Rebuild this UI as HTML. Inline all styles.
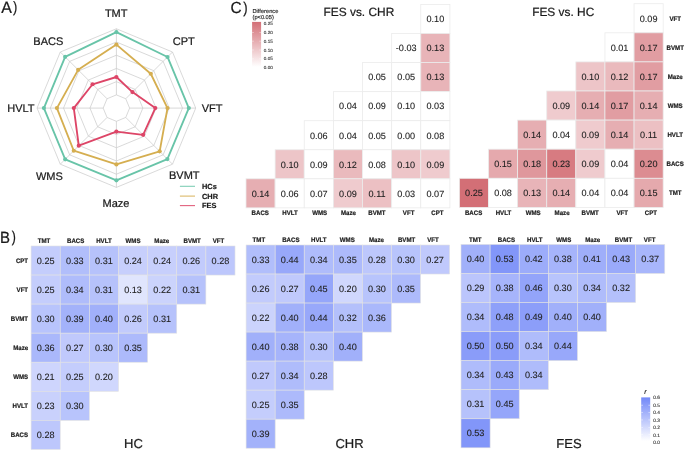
<!DOCTYPE html>
<html><head><meta charset="utf-8"><style>
html,body{margin:0;padding:0;background:#fff;}
body{width:685px;height:451px;overflow:hidden;}
svg{display:block;font-family:"Liberation Sans", sans-serif;will-change:transform;text-rendering:geometricPrecision;}
</style></head><body>
<svg width="685" height="451" viewBox="0 0 685 451">
<rect width="685" height="451" fill="#ffffff"/>
<polygon points="116.40,94.88 125.75,98.75 129.62,108.10 125.75,117.45 116.40,121.32 107.05,117.45 103.18,108.10 107.05,98.75" fill="none" stroke="#c8c8c8" stroke-width="0.7"/>
<polygon points="116.40,81.66 135.10,89.40 142.84,108.10 135.10,126.80 116.40,134.54 97.70,126.80 89.96,108.10 97.70,89.40" fill="none" stroke="#c8c8c8" stroke-width="0.7"/>
<polygon points="116.40,68.44 144.44,80.06 156.06,108.10 144.44,136.14 116.40,147.76 88.36,136.14 76.74,108.10 88.36,80.06" fill="none" stroke="#c8c8c8" stroke-width="0.7"/>
<polygon points="116.40,55.22 153.79,70.71 169.28,108.10 153.79,145.49 116.40,160.98 79.01,145.49 63.52,108.10 79.01,70.71" fill="none" stroke="#c8c8c8" stroke-width="0.7"/>
<polygon points="116.40,42.00 163.14,61.36 182.50,108.10 163.14,154.84 116.40,174.20 69.66,154.84 50.30,108.10 69.66,61.36" fill="none" stroke="#c8c8c8" stroke-width="0.7"/>
<polygon points="116.40,28.78 172.49,52.01 195.72,108.10 172.49,164.19 116.40,187.42 60.31,164.19 37.08,108.10 60.31,52.01" fill="none" stroke="#c8c8c8" stroke-width="0.7"/>
<line x1="116.40" y1="94.88" x2="116.40" y2="28.78" stroke="#c8c8c8" stroke-width="0.7"/>
<line x1="125.75" y1="98.75" x2="172.49" y2="52.01" stroke="#c8c8c8" stroke-width="0.7"/>
<line x1="129.62" y1="108.10" x2="195.72" y2="108.10" stroke="#c8c8c8" stroke-width="0.7"/>
<line x1="125.75" y1="117.45" x2="172.49" y2="164.19" stroke="#c8c8c8" stroke-width="0.7"/>
<line x1="116.40" y1="121.32" x2="116.40" y2="187.42" stroke="#c8c8c8" stroke-width="0.7"/>
<line x1="107.05" y1="117.45" x2="60.31" y2="164.19" stroke="#c8c8c8" stroke-width="0.7"/>
<line x1="103.18" y1="108.10" x2="37.08" y2="108.10" stroke="#c8c8c8" stroke-width="0.7"/>
<line x1="107.05" y1="98.75" x2="60.31" y2="52.01" stroke="#c8c8c8" stroke-width="0.7"/>
<polygon points="116.40,32.10 167.52,56.98 188.80,108.10 167.38,159.08 116.40,180.30 65.21,159.29 43.90,108.10 65.13,56.83" fill="none" stroke="#68c4a8" stroke-width="1.85" stroke-linejoin="round"/>
<circle cx="116.40" cy="32.10" r="2.1" fill="#68c4a8"/>
<circle cx="167.52" cy="56.98" r="2.1" fill="#68c4a8"/>
<circle cx="188.80" cy="108.10" r="2.1" fill="#68c4a8"/>
<circle cx="167.38" cy="159.08" r="2.1" fill="#68c4a8"/>
<circle cx="116.40" cy="180.30" r="2.1" fill="#68c4a8"/>
<circle cx="65.21" cy="159.29" r="2.1" fill="#68c4a8"/>
<circle cx="43.90" cy="108.10" r="2.1" fill="#68c4a8"/>
<circle cx="65.13" cy="56.83" r="2.1" fill="#68c4a8"/>
<polygon points="116.40,44.60 150.77,73.73 167.50,108.10 159.67,151.37 116.40,164.40 73.76,150.74 56.90,108.10 78.15,69.85" fill="none" stroke="#d5ae50" stroke-width="1.85" stroke-linejoin="round"/>
<circle cx="116.40" cy="44.60" r="2.1" fill="#d5ae50"/>
<circle cx="150.77" cy="73.73" r="2.1" fill="#d5ae50"/>
<circle cx="167.50" cy="108.10" r="2.1" fill="#d5ae50"/>
<circle cx="159.67" cy="151.37" r="2.1" fill="#d5ae50"/>
<circle cx="116.40" cy="164.40" r="2.1" fill="#d5ae50"/>
<circle cx="73.76" cy="150.74" r="2.1" fill="#d5ae50"/>
<circle cx="56.90" cy="108.10" r="2.1" fill="#d5ae50"/>
<circle cx="78.15" cy="69.85" r="2.1" fill="#d5ae50"/>
<polygon points="116.40,77.00 132.45,92.05 155.30,108.10 143.13,134.83 116.40,131.60 78.78,145.72 73.80,108.10 92.57,84.27" fill="none" stroke="#dd4567" stroke-width="1.85" stroke-linejoin="round"/>
<circle cx="116.40" cy="77.00" r="2.1" fill="#dd4567"/>
<circle cx="132.45" cy="92.05" r="2.1" fill="#dd4567"/>
<circle cx="155.30" cy="108.10" r="2.1" fill="#dd4567"/>
<circle cx="143.13" cy="134.83" r="2.1" fill="#dd4567"/>
<circle cx="116.40" cy="131.60" r="2.1" fill="#dd4567"/>
<circle cx="78.78" cy="145.72" r="2.1" fill="#dd4567"/>
<circle cx="73.80" cy="108.10" r="2.1" fill="#dd4567"/>
<circle cx="92.57" cy="84.27" r="2.1" fill="#dd4567"/>
<g fill="#1a1a1a" font-size="11.0">
<text x="116.20" y="16.90" font-size="11.0" text-anchor="middle" font-weight="normal" fill="#1a1a1a" stroke="#1a1a1a" stroke-width="0.22" >TMT</text>
<text x="172.80" y="44.90" font-size="11.0" text-anchor="start" font-weight="normal" fill="#1a1a1a" stroke="#1a1a1a" stroke-width="0.22" >CPT</text>
<text x="201.70" y="111.90" font-size="11.0" text-anchor="start" font-weight="normal" fill="#1a1a1a" stroke="#1a1a1a" stroke-width="0.22" >VFT</text>
<text x="169.00" y="179.40" font-size="11.0" text-anchor="start" font-weight="normal" fill="#1a1a1a" stroke="#1a1a1a" stroke-width="0.22" >BVMT</text>
<text x="116.00" y="206.70" font-size="11.0" text-anchor="middle" font-weight="normal" fill="#1a1a1a" stroke="#1a1a1a" stroke-width="0.22" >Maze</text>
<text x="62.80" y="179.50" font-size="11.0" text-anchor="end" font-weight="normal" fill="#1a1a1a" stroke="#1a1a1a" stroke-width="0.22" >WMS</text>
<text x="34.50" y="111.90" font-size="11.0" text-anchor="end" font-weight="normal" fill="#1a1a1a" stroke="#1a1a1a" stroke-width="0.22" >HVLT</text>
<text x="63.30" y="44.60" font-size="11.0" text-anchor="end" font-weight="normal" fill="#1a1a1a" stroke="#1a1a1a" stroke-width="0.22" >BACS</text>
</g>
<line x1="179.9" y1="186.3" x2="195" y2="186.3" stroke="#68c4a8" stroke-width="1.1" opacity="0.85"/>
<text x="202.00" y="188.90" font-size="7.4" text-anchor="start" font-weight="bold" fill="#1a1a1a" stroke="#1a1a1a" stroke-width="0.20" >HCs</text>
<line x1="179.9" y1="196.1" x2="195" y2="196.1" stroke="#d5ae50" stroke-width="1.1" opacity="0.85"/>
<text x="202.00" y="198.80" font-size="7.4" text-anchor="start" font-weight="bold" fill="#1a1a1a" stroke="#1a1a1a" stroke-width="0.20" >CHR</text>
<line x1="179.9" y1="205.6" x2="195" y2="205.6" stroke="#dd4567" stroke-width="1.1" opacity="0.85"/>
<text x="202.00" y="208.30" font-size="7.4" text-anchor="start" font-weight="bold" fill="#1a1a1a" stroke="#1a1a1a" stroke-width="0.20" >FES</text>
<text transform="translate(1.20,12.60) scale(0.97,1)" font-size="16.4" text-anchor="start" font-weight="normal" fill="#1a1a1a" stroke="#1a1a1a" stroke-width="0.22" >A</text>
<text transform="translate(13.00,12.35) scale(0.85,1)" font-size="15.2" text-anchor="start" font-weight="normal" fill="#1a1a1a" stroke="#1a1a1a" stroke-width="0.22" >)</text>
<text transform="translate(0.00,242.60) scale(0.92,1)" font-size="16.3" text-anchor="start" font-weight="normal" fill="#1a1a1a" stroke="#1a1a1a" stroke-width="0.22" >B</text>
<text transform="translate(11.70,242.40) scale(0.8,1)" font-size="15.4" text-anchor="start" font-weight="normal" fill="#1a1a1a" stroke="#1a1a1a" stroke-width="0.22" >)</text>
<text transform="translate(230.50,12.55) scale(0.96,1)" font-size="16.1" text-anchor="start" font-weight="normal" fill="#1a1a1a" stroke="#1a1a1a" stroke-width="0.22" >C</text>
<text transform="translate(243.20,12.60) scale(0.85,1)" font-size="15.4" text-anchor="start" font-weight="normal" fill="#1a1a1a" stroke="#1a1a1a" stroke-width="0.22" >)</text>
<rect x="31.10" y="246.00" width="29.13" height="29.06" fill="#c4cdfc" stroke="#e2e2e2" stroke-width="0.6"/>
<text x="45.66" y="263.53" font-size="9.1" text-anchor="middle" font-weight="normal" fill="#222222" stroke="#222222" stroke-width="0.10" >0.25</text>
<rect x="60.23" y="246.00" width="29.13" height="29.06" fill="#b1befb" stroke="#e2e2e2" stroke-width="0.6"/>
<text x="74.80" y="263.53" font-size="9.1" text-anchor="middle" font-weight="normal" fill="#222222" stroke="#222222" stroke-width="0.10" >0.33</text>
<rect x="89.36" y="246.00" width="29.13" height="29.06" fill="#b6c2fb" stroke="#e2e2e2" stroke-width="0.6"/>
<text x="103.92" y="263.53" font-size="9.1" text-anchor="middle" font-weight="normal" fill="#222222" stroke="#222222" stroke-width="0.10" >0.31</text>
<rect x="118.49" y="246.00" width="29.13" height="29.06" fill="#c7cffc" stroke="#e2e2e2" stroke-width="0.6"/>
<text x="133.06" y="263.53" font-size="9.1" text-anchor="middle" font-weight="normal" fill="#222222" stroke="#222222" stroke-width="0.10" >0.24</text>
<rect x="147.62" y="246.00" width="29.13" height="29.06" fill="#c7cffc" stroke="#e2e2e2" stroke-width="0.6"/>
<text x="162.19" y="263.53" font-size="9.1" text-anchor="middle" font-weight="normal" fill="#222222" stroke="#222222" stroke-width="0.10" >0.24</text>
<rect x="176.75" y="246.00" width="29.13" height="29.06" fill="#c2cbfc" stroke="#e2e2e2" stroke-width="0.6"/>
<text x="191.31" y="263.53" font-size="9.1" text-anchor="middle" font-weight="normal" fill="#222222" stroke="#222222" stroke-width="0.10" >0.26</text>
<rect x="205.88" y="246.00" width="29.13" height="29.06" fill="#bdc7fc" stroke="#e2e2e2" stroke-width="0.6"/>
<text x="220.44" y="263.53" font-size="9.1" text-anchor="middle" font-weight="normal" fill="#222222" stroke="#222222" stroke-width="0.10" >0.28</text>
<rect x="31.10" y="275.06" width="29.13" height="29.06" fill="#c4cdfc" stroke="#e2e2e2" stroke-width="0.6"/>
<text x="45.66" y="292.59" font-size="9.1" text-anchor="middle" font-weight="normal" fill="#222222" stroke="#222222" stroke-width="0.10" >0.25</text>
<rect x="60.23" y="275.06" width="29.13" height="29.06" fill="#afbcfb" stroke="#e2e2e2" stroke-width="0.6"/>
<text x="74.80" y="292.59" font-size="9.1" text-anchor="middle" font-weight="normal" fill="#222222" stroke="#222222" stroke-width="0.10" >0.34</text>
<rect x="89.36" y="275.06" width="29.13" height="29.06" fill="#b6c2fb" stroke="#e2e2e2" stroke-width="0.6"/>
<text x="103.92" y="292.59" font-size="9.1" text-anchor="middle" font-weight="normal" fill="#222222" stroke="#222222" stroke-width="0.10" >0.31</text>
<rect x="118.49" y="275.06" width="29.13" height="29.06" fill="#e0e5fd" stroke="#e2e2e2" stroke-width="0.6"/>
<text x="133.06" y="292.59" font-size="9.1" text-anchor="middle" font-weight="normal" fill="#222222" stroke="#222222" stroke-width="0.10" >0.13</text>
<rect x="147.62" y="275.06" width="29.13" height="29.06" fill="#cbd3fc" stroke="#e2e2e2" stroke-width="0.6"/>
<text x="162.19" y="292.59" font-size="9.1" text-anchor="middle" font-weight="normal" fill="#222222" stroke="#222222" stroke-width="0.10" >0.22</text>
<rect x="176.75" y="275.06" width="29.13" height="29.06" fill="#b6c2fb" stroke="#e2e2e2" stroke-width="0.6"/>
<text x="191.31" y="292.59" font-size="9.1" text-anchor="middle" font-weight="normal" fill="#222222" stroke="#222222" stroke-width="0.10" >0.31</text>
<rect x="31.10" y="304.12" width="29.13" height="29.06" fill="#b8c4fc" stroke="#e2e2e2" stroke-width="0.6"/>
<text x="45.66" y="321.65" font-size="9.1" text-anchor="middle" font-weight="normal" fill="#222222" stroke="#222222" stroke-width="0.10" >0.30</text>
<rect x="60.23" y="304.12" width="29.13" height="29.06" fill="#a3b2fa" stroke="#e2e2e2" stroke-width="0.6"/>
<text x="74.80" y="321.65" font-size="9.1" text-anchor="middle" font-weight="normal" fill="#222222" stroke="#222222" stroke-width="0.10" >0.39</text>
<rect x="89.36" y="304.12" width="29.13" height="29.06" fill="#a1b0fa" stroke="#e2e2e2" stroke-width="0.6"/>
<text x="103.92" y="321.65" font-size="9.1" text-anchor="middle" font-weight="normal" fill="#222222" stroke="#222222" stroke-width="0.10" >0.40</text>
<rect x="118.49" y="304.12" width="29.13" height="29.06" fill="#c2cbfc" stroke="#e2e2e2" stroke-width="0.6"/>
<text x="133.06" y="321.65" font-size="9.1" text-anchor="middle" font-weight="normal" fill="#222222" stroke="#222222" stroke-width="0.10" >0.26</text>
<rect x="147.62" y="304.12" width="29.13" height="29.06" fill="#b6c2fb" stroke="#e2e2e2" stroke-width="0.6"/>
<text x="162.19" y="321.65" font-size="9.1" text-anchor="middle" font-weight="normal" fill="#222222" stroke="#222222" stroke-width="0.10" >0.31</text>
<rect x="31.10" y="333.18" width="29.13" height="29.06" fill="#aab8fb" stroke="#e2e2e2" stroke-width="0.6"/>
<text x="45.66" y="350.71" font-size="9.1" text-anchor="middle" font-weight="normal" fill="#222222" stroke="#222222" stroke-width="0.10" >0.36</text>
<rect x="60.23" y="333.18" width="29.13" height="29.06" fill="#c0c9fc" stroke="#e2e2e2" stroke-width="0.6"/>
<text x="74.80" y="350.71" font-size="9.1" text-anchor="middle" font-weight="normal" fill="#222222" stroke="#222222" stroke-width="0.10" >0.27</text>
<rect x="89.36" y="333.18" width="29.13" height="29.06" fill="#b8c4fc" stroke="#e2e2e2" stroke-width="0.6"/>
<text x="103.92" y="350.71" font-size="9.1" text-anchor="middle" font-weight="normal" fill="#222222" stroke="#222222" stroke-width="0.10" >0.30</text>
<rect x="118.49" y="333.18" width="29.13" height="29.06" fill="#adbafb" stroke="#e2e2e2" stroke-width="0.6"/>
<text x="133.06" y="350.71" font-size="9.1" text-anchor="middle" font-weight="normal" fill="#222222" stroke="#222222" stroke-width="0.10" >0.35</text>
<rect x="31.10" y="362.24" width="29.13" height="29.06" fill="#ced5fd" stroke="#e2e2e2" stroke-width="0.6"/>
<text x="45.66" y="379.77" font-size="9.1" text-anchor="middle" font-weight="normal" fill="#222222" stroke="#222222" stroke-width="0.10" >0.21</text>
<rect x="60.23" y="362.24" width="29.13" height="29.06" fill="#c4cdfc" stroke="#e2e2e2" stroke-width="0.6"/>
<text x="74.80" y="379.77" font-size="9.1" text-anchor="middle" font-weight="normal" fill="#222222" stroke="#222222" stroke-width="0.10" >0.25</text>
<rect x="89.36" y="362.24" width="29.13" height="29.06" fill="#d0d7fd" stroke="#e2e2e2" stroke-width="0.6"/>
<text x="103.92" y="379.77" font-size="9.1" text-anchor="middle" font-weight="normal" fill="#222222" stroke="#222222" stroke-width="0.10" >0.20</text>
<rect x="31.10" y="391.30" width="29.13" height="29.06" fill="#c9d1fc" stroke="#e2e2e2" stroke-width="0.6"/>
<text x="45.66" y="408.83" font-size="9.1" text-anchor="middle" font-weight="normal" fill="#222222" stroke="#222222" stroke-width="0.10" >0.23</text>
<rect x="60.23" y="391.30" width="29.13" height="29.06" fill="#b8c4fc" stroke="#e2e2e2" stroke-width="0.6"/>
<text x="74.80" y="408.83" font-size="9.1" text-anchor="middle" font-weight="normal" fill="#222222" stroke="#222222" stroke-width="0.10" >0.30</text>
<rect x="31.10" y="420.36" width="29.13" height="29.06" fill="#bdc7fc" stroke="#e2e2e2" stroke-width="0.6"/>
<text x="45.66" y="437.89" font-size="9.1" text-anchor="middle" font-weight="normal" fill="#222222" stroke="#222222" stroke-width="0.10" >0.28</text>
<text transform="translate(43.96,242.60) scale(0.94,1)" font-size="6.5" text-anchor="middle" font-weight="bold" fill="#1a1a1a" stroke="#1a1a1a" stroke-width="0.20" >TMT</text>
<text transform="translate(75.70,242.60) scale(0.94,1)" font-size="6.5" text-anchor="middle" font-weight="bold" fill="#1a1a1a" stroke="#1a1a1a" stroke-width="0.20" >BACS</text>
<text transform="translate(103.92,242.60) scale(0.94,1)" font-size="6.5" text-anchor="middle" font-weight="bold" fill="#1a1a1a" stroke="#1a1a1a" stroke-width="0.20" >HVLT</text>
<text transform="translate(133.06,242.60) scale(0.94,1)" font-size="6.5" text-anchor="middle" font-weight="bold" fill="#1a1a1a" stroke="#1a1a1a" stroke-width="0.20" >WMS</text>
<text transform="translate(161.78,242.60) scale(0.94,1)" font-size="6.5" text-anchor="middle" font-weight="bold" fill="#1a1a1a" stroke="#1a1a1a" stroke-width="0.20" >Maze</text>
<text transform="translate(192.12,242.60) scale(0.94,1)" font-size="6.5" text-anchor="middle" font-weight="bold" fill="#1a1a1a" stroke="#1a1a1a" stroke-width="0.20" >BVMT</text>
<text transform="translate(218.54,242.60) scale(0.94,1)" font-size="6.5" text-anchor="middle" font-weight="bold" fill="#1a1a1a" stroke="#1a1a1a" stroke-width="0.20" >VFT</text>
<text transform="translate(28.10,263.13) scale(0.94,1)" font-size="6.5" text-anchor="end" font-weight="bold" fill="#1a1a1a" stroke="#1a1a1a" stroke-width="0.20" >CPT</text>
<text transform="translate(28.10,292.19) scale(0.94,1)" font-size="6.5" text-anchor="end" font-weight="bold" fill="#1a1a1a" stroke="#1a1a1a" stroke-width="0.20" >VFT</text>
<text transform="translate(28.10,321.25) scale(0.94,1)" font-size="6.5" text-anchor="end" font-weight="bold" fill="#1a1a1a" stroke="#1a1a1a" stroke-width="0.20" >BVMT</text>
<text transform="translate(28.10,350.31) scale(0.94,1)" font-size="6.5" text-anchor="end" font-weight="bold" fill="#1a1a1a" stroke="#1a1a1a" stroke-width="0.20" >Maze</text>
<text transform="translate(28.10,379.37) scale(0.94,1)" font-size="6.5" text-anchor="end" font-weight="bold" fill="#1a1a1a" stroke="#1a1a1a" stroke-width="0.20" >WMS</text>
<text transform="translate(28.10,408.43) scale(0.94,1)" font-size="6.5" text-anchor="end" font-weight="bold" fill="#1a1a1a" stroke="#1a1a1a" stroke-width="0.20" >HVLT</text>
<text transform="translate(28.10,437.49) scale(0.94,1)" font-size="6.5" text-anchor="end" font-weight="bold" fill="#1a1a1a" stroke="#1a1a1a" stroke-width="0.20" >BACS</text>
<text x="133.40" y="447.80" font-size="13" text-anchor="middle" font-weight="normal" fill="#1a1a1a" stroke="#1a1a1a" stroke-width="0.22" >HC</text>
<rect x="246.10" y="245.00" width="29.07" height="29.03" fill="#b1befb" stroke="#e2e2e2" stroke-width="0.6"/>
<text x="260.63" y="262.51" font-size="9.1" text-anchor="middle" font-weight="normal" fill="#222222" stroke="#222222" stroke-width="0.10" >0.33</text>
<rect x="275.17" y="245.00" width="29.07" height="29.03" fill="#98a8fa" stroke="#e2e2e2" stroke-width="0.6"/>
<text x="289.71" y="262.51" font-size="9.1" text-anchor="middle" font-weight="normal" fill="#222222" stroke="#222222" stroke-width="0.10" >0.44</text>
<rect x="304.24" y="245.00" width="29.07" height="29.03" fill="#afbcfb" stroke="#e2e2e2" stroke-width="0.6"/>
<text x="318.78" y="262.51" font-size="9.1" text-anchor="middle" font-weight="normal" fill="#222222" stroke="#222222" stroke-width="0.10" >0.34</text>
<rect x="333.31" y="245.00" width="29.07" height="29.03" fill="#adbafb" stroke="#e2e2e2" stroke-width="0.6"/>
<text x="347.85" y="262.51" font-size="9.1" text-anchor="middle" font-weight="normal" fill="#222222" stroke="#222222" stroke-width="0.10" >0.35</text>
<rect x="362.38" y="245.00" width="29.07" height="29.03" fill="#bdc7fc" stroke="#e2e2e2" stroke-width="0.6"/>
<text x="376.92" y="262.51" font-size="9.1" text-anchor="middle" font-weight="normal" fill="#222222" stroke="#222222" stroke-width="0.10" >0.28</text>
<rect x="391.45" y="245.00" width="29.07" height="29.03" fill="#b8c4fc" stroke="#e2e2e2" stroke-width="0.6"/>
<text x="405.99" y="262.51" font-size="9.1" text-anchor="middle" font-weight="normal" fill="#222222" stroke="#222222" stroke-width="0.10" >0.30</text>
<rect x="420.52" y="245.00" width="29.07" height="29.03" fill="#c0c9fc" stroke="#e2e2e2" stroke-width="0.6"/>
<text x="435.06" y="262.51" font-size="9.1" text-anchor="middle" font-weight="normal" fill="#222222" stroke="#222222" stroke-width="0.10" >0.27</text>
<rect x="246.10" y="274.03" width="29.07" height="29.03" fill="#c2cbfc" stroke="#e2e2e2" stroke-width="0.6"/>
<text x="260.63" y="291.54" font-size="9.1" text-anchor="middle" font-weight="normal" fill="#222222" stroke="#222222" stroke-width="0.10" >0.26</text>
<rect x="275.17" y="274.03" width="29.07" height="29.03" fill="#c0c9fc" stroke="#e2e2e2" stroke-width="0.6"/>
<text x="289.71" y="291.54" font-size="9.1" text-anchor="middle" font-weight="normal" fill="#222222" stroke="#222222" stroke-width="0.10" >0.27</text>
<rect x="304.24" y="274.03" width="29.07" height="29.03" fill="#95a6fa" stroke="#e2e2e2" stroke-width="0.6"/>
<text x="318.78" y="291.54" font-size="9.1" text-anchor="middle" font-weight="normal" fill="#222222" stroke="#222222" stroke-width="0.10" >0.45</text>
<rect x="333.31" y="274.03" width="29.07" height="29.03" fill="#d0d7fd" stroke="#e2e2e2" stroke-width="0.6"/>
<text x="347.85" y="291.54" font-size="9.1" text-anchor="middle" font-weight="normal" fill="#222222" stroke="#222222" stroke-width="0.10" >0.20</text>
<rect x="362.38" y="274.03" width="29.07" height="29.03" fill="#b8c4fc" stroke="#e2e2e2" stroke-width="0.6"/>
<text x="376.92" y="291.54" font-size="9.1" text-anchor="middle" font-weight="normal" fill="#222222" stroke="#222222" stroke-width="0.10" >0.30</text>
<rect x="391.45" y="274.03" width="29.07" height="29.03" fill="#adbafb" stroke="#e2e2e2" stroke-width="0.6"/>
<text x="405.99" y="291.54" font-size="9.1" text-anchor="middle" font-weight="normal" fill="#222222" stroke="#222222" stroke-width="0.10" >0.35</text>
<rect x="246.10" y="303.06" width="29.07" height="29.03" fill="#cbd3fc" stroke="#e2e2e2" stroke-width="0.6"/>
<text x="260.63" y="320.57" font-size="9.1" text-anchor="middle" font-weight="normal" fill="#222222" stroke="#222222" stroke-width="0.10" >0.22</text>
<rect x="275.17" y="303.06" width="29.07" height="29.03" fill="#a1b0fa" stroke="#e2e2e2" stroke-width="0.6"/>
<text x="289.71" y="320.57" font-size="9.1" text-anchor="middle" font-weight="normal" fill="#222222" stroke="#222222" stroke-width="0.10" >0.40</text>
<rect x="304.24" y="303.06" width="29.07" height="29.03" fill="#98a8fa" stroke="#e2e2e2" stroke-width="0.6"/>
<text x="318.78" y="320.57" font-size="9.1" text-anchor="middle" font-weight="normal" fill="#222222" stroke="#222222" stroke-width="0.10" >0.44</text>
<rect x="333.31" y="303.06" width="29.07" height="29.03" fill="#b4c0fb" stroke="#e2e2e2" stroke-width="0.6"/>
<text x="347.85" y="320.57" font-size="9.1" text-anchor="middle" font-weight="normal" fill="#222222" stroke="#222222" stroke-width="0.10" >0.32</text>
<rect x="362.38" y="303.06" width="29.07" height="29.03" fill="#aab8fb" stroke="#e2e2e2" stroke-width="0.6"/>
<text x="376.92" y="320.57" font-size="9.1" text-anchor="middle" font-weight="normal" fill="#222222" stroke="#222222" stroke-width="0.10" >0.36</text>
<rect x="246.10" y="332.09" width="29.07" height="29.03" fill="#a1b0fa" stroke="#e2e2e2" stroke-width="0.6"/>
<text x="260.63" y="349.61" font-size="9.1" text-anchor="middle" font-weight="normal" fill="#222222" stroke="#222222" stroke-width="0.10" >0.40</text>
<rect x="275.17" y="332.09" width="29.07" height="29.03" fill="#a6b4fb" stroke="#e2e2e2" stroke-width="0.6"/>
<text x="289.71" y="349.61" font-size="9.1" text-anchor="middle" font-weight="normal" fill="#222222" stroke="#222222" stroke-width="0.10" >0.38</text>
<rect x="304.24" y="332.09" width="29.07" height="29.03" fill="#b8c4fc" stroke="#e2e2e2" stroke-width="0.6"/>
<text x="318.78" y="349.61" font-size="9.1" text-anchor="middle" font-weight="normal" fill="#222222" stroke="#222222" stroke-width="0.10" >0.30</text>
<rect x="333.31" y="332.09" width="29.07" height="29.03" fill="#a1b0fa" stroke="#e2e2e2" stroke-width="0.6"/>
<text x="347.85" y="349.61" font-size="9.1" text-anchor="middle" font-weight="normal" fill="#222222" stroke="#222222" stroke-width="0.10" >0.40</text>
<rect x="246.10" y="361.12" width="29.07" height="29.03" fill="#c0c9fc" stroke="#e2e2e2" stroke-width="0.6"/>
<text x="260.63" y="378.63" font-size="9.1" text-anchor="middle" font-weight="normal" fill="#222222" stroke="#222222" stroke-width="0.10" >0.27</text>
<rect x="275.17" y="361.12" width="29.07" height="29.03" fill="#afbcfb" stroke="#e2e2e2" stroke-width="0.6"/>
<text x="289.71" y="378.63" font-size="9.1" text-anchor="middle" font-weight="normal" fill="#222222" stroke="#222222" stroke-width="0.10" >0.34</text>
<rect x="304.24" y="361.12" width="29.07" height="29.03" fill="#bdc7fc" stroke="#e2e2e2" stroke-width="0.6"/>
<text x="318.78" y="378.63" font-size="9.1" text-anchor="middle" font-weight="normal" fill="#222222" stroke="#222222" stroke-width="0.10" >0.28</text>
<rect x="246.10" y="390.15" width="29.07" height="29.03" fill="#c4cdfc" stroke="#e2e2e2" stroke-width="0.6"/>
<text x="260.63" y="407.66" font-size="9.1" text-anchor="middle" font-weight="normal" fill="#222222" stroke="#222222" stroke-width="0.10" >0.25</text>
<rect x="275.17" y="390.15" width="29.07" height="29.03" fill="#adbafb" stroke="#e2e2e2" stroke-width="0.6"/>
<text x="289.71" y="407.66" font-size="9.1" text-anchor="middle" font-weight="normal" fill="#222222" stroke="#222222" stroke-width="0.10" >0.35</text>
<rect x="246.10" y="419.18" width="29.07" height="29.03" fill="#a3b2fa" stroke="#e2e2e2" stroke-width="0.6"/>
<text x="260.63" y="436.69" font-size="9.1" text-anchor="middle" font-weight="normal" fill="#222222" stroke="#222222" stroke-width="0.10" >0.39</text>
<text transform="translate(258.83,241.60) scale(0.94,1)" font-size="6.5" text-anchor="middle" font-weight="bold" fill="#1a1a1a" stroke="#1a1a1a" stroke-width="0.20" >TMT</text>
<text transform="translate(290.81,241.60) scale(0.94,1)" font-size="6.5" text-anchor="middle" font-weight="bold" fill="#1a1a1a" stroke="#1a1a1a" stroke-width="0.20" >BACS</text>
<text transform="translate(318.78,241.60) scale(0.94,1)" font-size="6.5" text-anchor="middle" font-weight="bold" fill="#1a1a1a" stroke="#1a1a1a" stroke-width="0.20" >HVLT</text>
<text transform="translate(347.25,241.60) scale(0.94,1)" font-size="6.5" text-anchor="middle" font-weight="bold" fill="#1a1a1a" stroke="#1a1a1a" stroke-width="0.20" >WMS</text>
<text transform="translate(376.42,241.60) scale(0.94,1)" font-size="6.5" text-anchor="middle" font-weight="bold" fill="#1a1a1a" stroke="#1a1a1a" stroke-width="0.20" >Maze</text>
<text transform="translate(406.59,241.60) scale(0.94,1)" font-size="6.5" text-anchor="middle" font-weight="bold" fill="#1a1a1a" stroke="#1a1a1a" stroke-width="0.20" >BVMT</text>
<text transform="translate(433.06,241.60) scale(0.94,1)" font-size="6.5" text-anchor="middle" font-weight="bold" fill="#1a1a1a" stroke="#1a1a1a" stroke-width="0.20" >VFT</text>
<text x="349.50" y="447.80" font-size="13" text-anchor="middle" font-weight="normal" fill="#1a1a1a" stroke="#1a1a1a" stroke-width="0.22" >CHR</text>
<rect x="461.00" y="244.40" width="29.11" height="29.06" fill="#a1b0fa" stroke="#e2e2e2" stroke-width="0.6"/>
<text x="475.56" y="261.93" font-size="9.1" text-anchor="middle" font-weight="normal" fill="#222222" stroke="#222222" stroke-width="0.10" >0.40</text>
<rect x="490.11" y="244.40" width="29.11" height="29.06" fill="#8296f9" stroke="#e2e2e2" stroke-width="0.6"/>
<text x="504.67" y="261.93" font-size="9.1" text-anchor="middle" font-weight="normal" fill="#222222" stroke="#222222" stroke-width="0.10" >0.53</text>
<rect x="519.22" y="244.40" width="29.11" height="29.06" fill="#9cacfa" stroke="#e2e2e2" stroke-width="0.6"/>
<text x="533.77" y="261.93" font-size="9.1" text-anchor="middle" font-weight="normal" fill="#222222" stroke="#222222" stroke-width="0.10" >0.42</text>
<rect x="548.33" y="244.40" width="29.11" height="29.06" fill="#a6b4fb" stroke="#e2e2e2" stroke-width="0.6"/>
<text x="562.88" y="261.93" font-size="9.1" text-anchor="middle" font-weight="normal" fill="#222222" stroke="#222222" stroke-width="0.10" >0.38</text>
<rect x="577.44" y="244.40" width="29.11" height="29.06" fill="#9faefa" stroke="#e2e2e2" stroke-width="0.6"/>
<text x="592.00" y="261.93" font-size="9.1" text-anchor="middle" font-weight="normal" fill="#222222" stroke="#222222" stroke-width="0.10" >0.41</text>
<rect x="606.55" y="244.40" width="29.11" height="29.06" fill="#9aaafa" stroke="#e2e2e2" stroke-width="0.6"/>
<text x="621.10" y="261.93" font-size="9.1" text-anchor="middle" font-weight="normal" fill="#222222" stroke="#222222" stroke-width="0.10" >0.43</text>
<rect x="635.66" y="244.40" width="29.11" height="29.06" fill="#a8b6fb" stroke="#e2e2e2" stroke-width="0.6"/>
<text x="650.21" y="261.93" font-size="9.1" text-anchor="middle" font-weight="normal" fill="#222222" stroke="#222222" stroke-width="0.10" >0.37</text>
<rect x="461.00" y="273.46" width="29.11" height="29.06" fill="#bbc5fc" stroke="#e2e2e2" stroke-width="0.6"/>
<text x="475.56" y="290.99" font-size="9.1" text-anchor="middle" font-weight="normal" fill="#222222" stroke="#222222" stroke-width="0.10" >0.29</text>
<rect x="490.11" y="273.46" width="29.11" height="29.06" fill="#a6b4fb" stroke="#e2e2e2" stroke-width="0.6"/>
<text x="504.67" y="290.99" font-size="9.1" text-anchor="middle" font-weight="normal" fill="#222222" stroke="#222222" stroke-width="0.10" >0.38</text>
<rect x="519.22" y="273.46" width="29.11" height="29.06" fill="#93a4fa" stroke="#e2e2e2" stroke-width="0.6"/>
<text x="533.77" y="290.99" font-size="9.1" text-anchor="middle" font-weight="normal" fill="#222222" stroke="#222222" stroke-width="0.10" >0.46</text>
<rect x="548.33" y="273.46" width="29.11" height="29.06" fill="#b8c4fc" stroke="#e2e2e2" stroke-width="0.6"/>
<text x="562.88" y="290.99" font-size="9.1" text-anchor="middle" font-weight="normal" fill="#222222" stroke="#222222" stroke-width="0.10" >0.30</text>
<rect x="577.44" y="273.46" width="29.11" height="29.06" fill="#afbcfb" stroke="#e2e2e2" stroke-width="0.6"/>
<text x="592.00" y="290.99" font-size="9.1" text-anchor="middle" font-weight="normal" fill="#222222" stroke="#222222" stroke-width="0.10" >0.34</text>
<rect x="606.55" y="273.46" width="29.11" height="29.06" fill="#b4c0fb" stroke="#e2e2e2" stroke-width="0.6"/>
<text x="621.10" y="290.99" font-size="9.1" text-anchor="middle" font-weight="normal" fill="#222222" stroke="#222222" stroke-width="0.10" >0.32</text>
<rect x="461.00" y="302.52" width="29.11" height="29.06" fill="#afbcfb" stroke="#e2e2e2" stroke-width="0.6"/>
<text x="475.56" y="320.05" font-size="9.1" text-anchor="middle" font-weight="normal" fill="#222222" stroke="#222222" stroke-width="0.10" >0.34</text>
<rect x="490.11" y="302.52" width="29.11" height="29.06" fill="#8ea0f9" stroke="#e2e2e2" stroke-width="0.6"/>
<text x="504.67" y="320.05" font-size="9.1" text-anchor="middle" font-weight="normal" fill="#222222" stroke="#222222" stroke-width="0.10" >0.48</text>
<rect x="519.22" y="302.52" width="29.11" height="29.06" fill="#8c9ef9" stroke="#e2e2e2" stroke-width="0.6"/>
<text x="533.77" y="320.05" font-size="9.1" text-anchor="middle" font-weight="normal" fill="#222222" stroke="#222222" stroke-width="0.10" >0.49</text>
<rect x="548.33" y="302.52" width="29.11" height="29.06" fill="#a1b0fa" stroke="#e2e2e2" stroke-width="0.6"/>
<text x="562.88" y="320.05" font-size="9.1" text-anchor="middle" font-weight="normal" fill="#222222" stroke="#222222" stroke-width="0.10" >0.40</text>
<rect x="577.44" y="302.52" width="29.11" height="29.06" fill="#a1b0fa" stroke="#e2e2e2" stroke-width="0.6"/>
<text x="592.00" y="320.05" font-size="9.1" text-anchor="middle" font-weight="normal" fill="#222222" stroke="#222222" stroke-width="0.10" >0.40</text>
<rect x="461.00" y="331.58" width="29.11" height="29.06" fill="#8a9cf9" stroke="#e2e2e2" stroke-width="0.6"/>
<text x="475.56" y="349.11" font-size="9.1" text-anchor="middle" font-weight="normal" fill="#222222" stroke="#222222" stroke-width="0.10" >0.50</text>
<rect x="490.11" y="331.58" width="29.11" height="29.06" fill="#8a9cf9" stroke="#e2e2e2" stroke-width="0.6"/>
<text x="504.67" y="349.11" font-size="9.1" text-anchor="middle" font-weight="normal" fill="#222222" stroke="#222222" stroke-width="0.10" >0.50</text>
<rect x="519.22" y="331.58" width="29.11" height="29.06" fill="#afbcfb" stroke="#e2e2e2" stroke-width="0.6"/>
<text x="533.77" y="349.11" font-size="9.1" text-anchor="middle" font-weight="normal" fill="#222222" stroke="#222222" stroke-width="0.10" >0.34</text>
<rect x="548.33" y="331.58" width="29.11" height="29.06" fill="#98a8fa" stroke="#e2e2e2" stroke-width="0.6"/>
<text x="562.88" y="349.11" font-size="9.1" text-anchor="middle" font-weight="normal" fill="#222222" stroke="#222222" stroke-width="0.10" >0.44</text>
<rect x="461.00" y="360.64" width="29.11" height="29.06" fill="#afbcfb" stroke="#e2e2e2" stroke-width="0.6"/>
<text x="475.56" y="378.17" font-size="9.1" text-anchor="middle" font-weight="normal" fill="#222222" stroke="#222222" stroke-width="0.10" >0.34</text>
<rect x="490.11" y="360.64" width="29.11" height="29.06" fill="#9aaafa" stroke="#e2e2e2" stroke-width="0.6"/>
<text x="504.67" y="378.17" font-size="9.1" text-anchor="middle" font-weight="normal" fill="#222222" stroke="#222222" stroke-width="0.10" >0.43</text>
<rect x="519.22" y="360.64" width="29.11" height="29.06" fill="#afbcfb" stroke="#e2e2e2" stroke-width="0.6"/>
<text x="533.77" y="378.17" font-size="9.1" text-anchor="middle" font-weight="normal" fill="#222222" stroke="#222222" stroke-width="0.10" >0.34</text>
<rect x="461.00" y="389.70" width="29.11" height="29.06" fill="#b6c2fb" stroke="#e2e2e2" stroke-width="0.6"/>
<text x="475.56" y="407.23" font-size="9.1" text-anchor="middle" font-weight="normal" fill="#222222" stroke="#222222" stroke-width="0.10" >0.31</text>
<rect x="490.11" y="389.70" width="29.11" height="29.06" fill="#95a6fa" stroke="#e2e2e2" stroke-width="0.6"/>
<text x="504.67" y="407.23" font-size="9.1" text-anchor="middle" font-weight="normal" fill="#222222" stroke="#222222" stroke-width="0.10" >0.45</text>
<rect x="461.00" y="418.76" width="29.11" height="29.06" fill="#8296f9" stroke="#e2e2e2" stroke-width="0.6"/>
<text x="475.56" y="436.29" font-size="9.1" text-anchor="middle" font-weight="normal" fill="#222222" stroke="#222222" stroke-width="0.10" >0.53</text>
<text transform="translate(475.20,241.50) scale(0.94,1)" font-size="6.5" text-anchor="middle" font-weight="bold" fill="#1a1a1a" stroke="#1a1a1a" stroke-width="0.20" >TMT</text>
<text transform="translate(506.37,241.50) scale(0.94,1)" font-size="6.5" text-anchor="middle" font-weight="bold" fill="#1a1a1a" stroke="#1a1a1a" stroke-width="0.20" >BACS</text>
<text transform="translate(534.73,241.50) scale(0.94,1)" font-size="6.5" text-anchor="middle" font-weight="bold" fill="#1a1a1a" stroke="#1a1a1a" stroke-width="0.20" >HVLT</text>
<text transform="translate(563.78,241.50) scale(0.94,1)" font-size="6.5" text-anchor="middle" font-weight="bold" fill="#1a1a1a" stroke="#1a1a1a" stroke-width="0.20" >WMS</text>
<text transform="translate(592.70,241.50) scale(0.94,1)" font-size="6.5" text-anchor="middle" font-weight="bold" fill="#1a1a1a" stroke="#1a1a1a" stroke-width="0.20" >Maze</text>
<text transform="translate(623.45,241.50) scale(0.94,1)" font-size="6.5" text-anchor="middle" font-weight="bold" fill="#1a1a1a" stroke="#1a1a1a" stroke-width="0.20" >BVMT</text>
<text transform="translate(649.61,241.50) scale(0.94,1)" font-size="6.5" text-anchor="middle" font-weight="bold" fill="#1a1a1a" stroke="#1a1a1a" stroke-width="0.20" >VFT</text>
<text x="569.00" y="447.80" font-size="13" text-anchor="middle" font-weight="normal" fill="#1a1a1a" stroke="#1a1a1a" stroke-width="0.22" >FES</text>
<defs><linearGradient id="gb" x1="0" y1="1" x2="0" y2="0"><stop offset="0" stop-color="#ffffff"/><stop offset="1" stop-color="#7288f8"/></linearGradient><linearGradient id="gr" x1="0" y1="1" x2="0" y2="0"><stop offset="0" stop-color="#ffffff"/><stop offset="1" stop-color="#d36f76"/></linearGradient></defs>
<rect x="641.2" y="397.4" width="9" height="43.6" fill="url(#gb)"/>
<line x1="641.2" y1="434.65" x2="643.0" y2="434.65" stroke="#ffffff" stroke-width="0.6" opacity="0.8"/>
<line x1="648.4" y1="434.65" x2="650.2" y2="434.65" stroke="#ffffff" stroke-width="0.6" opacity="0.8"/>
<line x1="641.2" y1="427.30" x2="643.0" y2="427.30" stroke="#ffffff" stroke-width="0.6" opacity="0.8"/>
<line x1="648.4" y1="427.30" x2="650.2" y2="427.30" stroke="#ffffff" stroke-width="0.6" opacity="0.8"/>
<line x1="641.2" y1="419.95" x2="643.0" y2="419.95" stroke="#ffffff" stroke-width="0.6" opacity="0.8"/>
<line x1="648.4" y1="419.95" x2="650.2" y2="419.95" stroke="#ffffff" stroke-width="0.6" opacity="0.8"/>
<line x1="641.2" y1="412.60" x2="643.0" y2="412.60" stroke="#ffffff" stroke-width="0.6" opacity="0.8"/>
<line x1="648.4" y1="412.60" x2="650.2" y2="412.60" stroke="#ffffff" stroke-width="0.6" opacity="0.8"/>
<line x1="641.2" y1="405.25" x2="643.0" y2="405.25" stroke="#ffffff" stroke-width="0.6" opacity="0.8"/>
<line x1="648.4" y1="405.25" x2="650.2" y2="405.25" stroke="#ffffff" stroke-width="0.6" opacity="0.8"/>
<text x="653.20" y="444.00" font-size="4.8" text-anchor="start" font-weight="normal" fill="#333333" stroke="#333333" stroke-width="0.11" >0.0</text>
<text x="653.20" y="436.58" font-size="4.8" text-anchor="start" font-weight="normal" fill="#333333" stroke="#333333" stroke-width="0.11" >0.1</text>
<text x="653.20" y="429.16" font-size="4.8" text-anchor="start" font-weight="normal" fill="#333333" stroke="#333333" stroke-width="0.11" >0.2</text>
<text x="653.20" y="421.74" font-size="4.8" text-anchor="start" font-weight="normal" fill="#333333" stroke="#333333" stroke-width="0.11" >0.3</text>
<text x="653.20" y="414.32" font-size="4.8" text-anchor="start" font-weight="normal" fill="#333333" stroke="#333333" stroke-width="0.11" >0.4</text>
<text x="653.20" y="406.90" font-size="4.8" text-anchor="start" font-weight="normal" fill="#333333" stroke="#333333" stroke-width="0.11" >0.5</text>
<text x="653.20" y="399.48" font-size="4.8" text-anchor="start" font-weight="normal" fill="#333333" stroke="#333333" stroke-width="0.11" >0.6</text>
<text x="644.20" y="394.00" font-size="7" text-anchor="start" font-weight="normal" fill="#222222" stroke="#222222" stroke-width="0.15" font-style="italic">r</text>
<rect x="420.78" y="4.50" width="29.13" height="29.05" fill="#ffffff" stroke="#ebebeb" stroke-width="0.8"/>
<text x="435.34" y="22.32" font-size="9.1" text-anchor="middle" font-weight="normal" fill="#222222" stroke="#222222" stroke-width="0.10" >0.10</text>
<rect x="391.65" y="33.55" width="29.13" height="29.05" fill="#ffffff" stroke="#ebebeb" stroke-width="0.8"/>
<text x="406.21" y="51.37" font-size="9.1" text-anchor="middle" font-weight="normal" fill="#222222" stroke="#222222" stroke-width="0.10" >-0.03</text>
<rect x="420.78" y="33.55" width="29.13" height="29.05" fill="#e8b4b8" stroke="#ebebeb" stroke-width="0.8"/>
<text x="435.34" y="51.37" font-size="9.1" text-anchor="middle" font-weight="normal" fill="#222222" stroke="#222222" stroke-width="0.10" >0.13</text>
<rect x="362.52" y="62.60" width="29.13" height="29.05" fill="#ffffff" stroke="#ebebeb" stroke-width="0.8"/>
<text x="377.08" y="80.42" font-size="9.1" text-anchor="middle" font-weight="normal" fill="#222222" stroke="#222222" stroke-width="0.10" >0.05</text>
<rect x="391.65" y="62.60" width="29.13" height="29.05" fill="#ffffff" stroke="#ebebeb" stroke-width="0.8"/>
<text x="406.21" y="80.42" font-size="9.1" text-anchor="middle" font-weight="normal" fill="#222222" stroke="#222222" stroke-width="0.10" >0.05</text>
<rect x="420.78" y="62.60" width="29.13" height="29.05" fill="#e8b4b8" stroke="#ebebeb" stroke-width="0.8"/>
<text x="435.34" y="80.42" font-size="9.1" text-anchor="middle" font-weight="normal" fill="#222222" stroke="#222222" stroke-width="0.10" >0.13</text>
<rect x="333.39" y="91.65" width="29.13" height="29.05" fill="#ffffff" stroke="#ebebeb" stroke-width="0.8"/>
<text x="347.95" y="109.48" font-size="9.1" text-anchor="middle" font-weight="normal" fill="#222222" stroke="#222222" stroke-width="0.10" >0.04</text>
<rect x="362.52" y="91.65" width="29.13" height="29.05" fill="#ffffff" stroke="#ebebeb" stroke-width="0.8"/>
<text x="377.08" y="109.48" font-size="9.1" text-anchor="middle" font-weight="normal" fill="#222222" stroke="#222222" stroke-width="0.10" >0.09</text>
<rect x="391.65" y="91.65" width="29.13" height="29.05" fill="#ffffff" stroke="#ebebeb" stroke-width="0.8"/>
<text x="406.21" y="109.48" font-size="9.1" text-anchor="middle" font-weight="normal" fill="#222222" stroke="#222222" stroke-width="0.10" >0.10</text>
<rect x="420.78" y="91.65" width="29.13" height="29.05" fill="#ffffff" stroke="#ebebeb" stroke-width="0.8"/>
<text x="435.34" y="109.48" font-size="9.1" text-anchor="middle" font-weight="normal" fill="#222222" stroke="#222222" stroke-width="0.10" >0.03</text>
<rect x="304.26" y="120.70" width="29.13" height="29.05" fill="#ffffff" stroke="#ebebeb" stroke-width="0.8"/>
<text x="318.82" y="138.53" font-size="9.1" text-anchor="middle" font-weight="normal" fill="#222222" stroke="#222222" stroke-width="0.10" >0.06</text>
<rect x="333.39" y="120.70" width="29.13" height="29.05" fill="#ffffff" stroke="#ebebeb" stroke-width="0.8"/>
<text x="347.95" y="138.53" font-size="9.1" text-anchor="middle" font-weight="normal" fill="#222222" stroke="#222222" stroke-width="0.10" >0.04</text>
<rect x="362.52" y="120.70" width="29.13" height="29.05" fill="#ffffff" stroke="#ebebeb" stroke-width="0.8"/>
<text x="377.08" y="138.53" font-size="9.1" text-anchor="middle" font-weight="normal" fill="#222222" stroke="#222222" stroke-width="0.10" >0.05</text>
<rect x="391.65" y="120.70" width="29.13" height="29.05" fill="#ffffff" stroke="#ebebeb" stroke-width="0.8"/>
<text x="406.21" y="138.53" font-size="9.1" text-anchor="middle" font-weight="normal" fill="#222222" stroke="#222222" stroke-width="0.10" >0.00</text>
<rect x="420.78" y="120.70" width="29.13" height="29.05" fill="#ffffff" stroke="#ebebeb" stroke-width="0.8"/>
<text x="435.34" y="138.53" font-size="9.1" text-anchor="middle" font-weight="normal" fill="#222222" stroke="#222222" stroke-width="0.10" >0.08</text>
<rect x="275.13" y="149.75" width="29.13" height="29.05" fill="#edc5c8" stroke="#ebebeb" stroke-width="0.8"/>
<text x="289.69" y="167.58" font-size="9.1" text-anchor="middle" font-weight="normal" fill="#222222" stroke="#222222" stroke-width="0.10" >0.10</text>
<rect x="304.26" y="149.75" width="29.13" height="29.05" fill="#ffffff" stroke="#ebebeb" stroke-width="0.8"/>
<text x="318.82" y="167.58" font-size="9.1" text-anchor="middle" font-weight="normal" fill="#222222" stroke="#222222" stroke-width="0.10" >0.09</text>
<rect x="333.39" y="149.75" width="29.13" height="29.05" fill="#eababd" stroke="#ebebeb" stroke-width="0.8"/>
<text x="347.95" y="167.58" font-size="9.1" text-anchor="middle" font-weight="normal" fill="#222222" stroke="#222222" stroke-width="0.10" >0.12</text>
<rect x="362.52" y="149.75" width="29.13" height="29.05" fill="#ffffff" stroke="#ebebeb" stroke-width="0.8"/>
<text x="377.08" y="167.58" font-size="9.1" text-anchor="middle" font-weight="normal" fill="#222222" stroke="#222222" stroke-width="0.10" >0.08</text>
<rect x="391.65" y="149.75" width="29.13" height="29.05" fill="#edc5c8" stroke="#ebebeb" stroke-width="0.8"/>
<text x="406.21" y="167.58" font-size="9.1" text-anchor="middle" font-weight="normal" fill="#222222" stroke="#222222" stroke-width="0.10" >0.10</text>
<rect x="420.78" y="149.75" width="29.13" height="29.05" fill="#efcbce" stroke="#ebebeb" stroke-width="0.8"/>
<text x="435.34" y="167.58" font-size="9.1" text-anchor="middle" font-weight="normal" fill="#222222" stroke="#222222" stroke-width="0.10" >0.09</text>
<rect x="246.00" y="178.80" width="29.13" height="29.05" fill="#e6aeb2" stroke="#ebebeb" stroke-width="0.8"/>
<text x="260.56" y="196.63" font-size="9.1" text-anchor="middle" font-weight="normal" fill="#222222" stroke="#222222" stroke-width="0.10" >0.14</text>
<rect x="275.13" y="178.80" width="29.13" height="29.05" fill="#ffffff" stroke="#ebebeb" stroke-width="0.8"/>
<text x="289.69" y="196.63" font-size="9.1" text-anchor="middle" font-weight="normal" fill="#222222" stroke="#222222" stroke-width="0.10" >0.06</text>
<rect x="304.26" y="178.80" width="29.13" height="29.05" fill="#ffffff" stroke="#ebebeb" stroke-width="0.8"/>
<text x="318.82" y="196.63" font-size="9.1" text-anchor="middle" font-weight="normal" fill="#222222" stroke="#222222" stroke-width="0.10" >0.07</text>
<rect x="333.39" y="178.80" width="29.13" height="29.05" fill="#efcbce" stroke="#ebebeb" stroke-width="0.8"/>
<text x="347.95" y="196.63" font-size="9.1" text-anchor="middle" font-weight="normal" fill="#222222" stroke="#222222" stroke-width="0.10" >0.09</text>
<rect x="362.52" y="178.80" width="29.13" height="29.05" fill="#ecc0c3" stroke="#ebebeb" stroke-width="0.8"/>
<text x="377.08" y="196.63" font-size="9.1" text-anchor="middle" font-weight="normal" fill="#222222" stroke="#222222" stroke-width="0.10" >0.11</text>
<rect x="391.65" y="178.80" width="29.13" height="29.05" fill="#ffffff" stroke="#ebebeb" stroke-width="0.8"/>
<text x="406.21" y="196.63" font-size="9.1" text-anchor="middle" font-weight="normal" fill="#222222" stroke="#222222" stroke-width="0.10" >0.03</text>
<rect x="420.78" y="178.80" width="29.13" height="29.05" fill="#ffffff" stroke="#ebebeb" stroke-width="0.8"/>
<text x="435.34" y="196.63" font-size="9.1" text-anchor="middle" font-weight="normal" fill="#222222" stroke="#222222" stroke-width="0.10" >0.07</text>
<text transform="translate(260.26,215.20) scale(0.94,1)" font-size="6.5" text-anchor="middle" font-weight="bold" fill="#1a1a1a" stroke="#1a1a1a" stroke-width="0.20" >BACS</text>
<text transform="translate(290.05,215.20) scale(0.94,1)" font-size="6.5" text-anchor="middle" font-weight="bold" fill="#1a1a1a" stroke="#1a1a1a" stroke-width="0.20" >HVLT</text>
<text transform="translate(319.62,215.20) scale(0.94,1)" font-size="6.5" text-anchor="middle" font-weight="bold" fill="#1a1a1a" stroke="#1a1a1a" stroke-width="0.20" >WMS</text>
<text transform="translate(348.45,215.20) scale(0.94,1)" font-size="6.5" text-anchor="middle" font-weight="bold" fill="#1a1a1a" stroke="#1a1a1a" stroke-width="0.20" >Maze</text>
<text transform="translate(376.88,215.20) scale(0.94,1)" font-size="6.5" text-anchor="middle" font-weight="bold" fill="#1a1a1a" stroke="#1a1a1a" stroke-width="0.20" >BVMT</text>
<text transform="translate(408.61,215.20) scale(0.94,1)" font-size="6.5" text-anchor="middle" font-weight="bold" fill="#1a1a1a" stroke="#1a1a1a" stroke-width="0.20" >VFT</text>
<text transform="translate(437.44,215.20) scale(0.94,1)" font-size="6.5" text-anchor="middle" font-weight="bold" fill="#1a1a1a" stroke="#1a1a1a" stroke-width="0.20" >CPT</text>
<text x="358.90" y="15.80" font-size="11.9" text-anchor="middle" font-weight="normal" fill="#1a1a1a" stroke="#1a1a1a" stroke-width="0.22" >FES vs. CHR</text>
<rect x="634.06" y="3.70" width="29.11" height="29.10" fill="#ffffff" stroke="#ebebeb" stroke-width="0.8"/>
<text x="648.61" y="21.55" font-size="9.1" text-anchor="middle" font-weight="normal" fill="#222222" stroke="#222222" stroke-width="0.10" >0.09</text>
<rect x="604.95" y="32.80" width="29.11" height="29.10" fill="#ffffff" stroke="#ebebeb" stroke-width="0.8"/>
<text x="619.50" y="50.65" font-size="9.1" text-anchor="middle" font-weight="normal" fill="#222222" stroke="#222222" stroke-width="0.10" >0.01</text>
<rect x="634.06" y="32.80" width="29.11" height="29.10" fill="#e19da2" stroke="#ebebeb" stroke-width="0.8"/>
<text x="648.61" y="50.65" font-size="9.1" text-anchor="middle" font-weight="normal" fill="#222222" stroke="#222222" stroke-width="0.10" >0.17</text>
<rect x="575.84" y="61.90" width="29.11" height="29.10" fill="#edc5c8" stroke="#ebebeb" stroke-width="0.8"/>
<text x="590.39" y="79.75" font-size="9.1" text-anchor="middle" font-weight="normal" fill="#222222" stroke="#222222" stroke-width="0.10" >0.10</text>
<rect x="604.95" y="61.90" width="29.11" height="29.10" fill="#eababd" stroke="#ebebeb" stroke-width="0.8"/>
<text x="619.50" y="79.75" font-size="9.1" text-anchor="middle" font-weight="normal" fill="#222222" stroke="#222222" stroke-width="0.10" >0.12</text>
<rect x="634.06" y="61.90" width="29.11" height="29.10" fill="#e19da2" stroke="#ebebeb" stroke-width="0.8"/>
<text x="648.61" y="79.75" font-size="9.1" text-anchor="middle" font-weight="normal" fill="#222222" stroke="#222222" stroke-width="0.10" >0.17</text>
<rect x="546.73" y="91.00" width="29.11" height="29.10" fill="#efcbce" stroke="#ebebeb" stroke-width="0.8"/>
<text x="561.28" y="108.85" font-size="9.1" text-anchor="middle" font-weight="normal" fill="#222222" stroke="#222222" stroke-width="0.10" >0.09</text>
<rect x="575.84" y="91.00" width="29.11" height="29.10" fill="#e6aeb2" stroke="#ebebeb" stroke-width="0.8"/>
<text x="590.39" y="108.85" font-size="9.1" text-anchor="middle" font-weight="normal" fill="#222222" stroke="#222222" stroke-width="0.10" >0.14</text>
<rect x="604.95" y="91.00" width="29.11" height="29.10" fill="#e19da2" stroke="#ebebeb" stroke-width="0.8"/>
<text x="619.50" y="108.85" font-size="9.1" text-anchor="middle" font-weight="normal" fill="#222222" stroke="#222222" stroke-width="0.10" >0.17</text>
<rect x="634.06" y="91.00" width="29.11" height="29.10" fill="#e6aeb2" stroke="#ebebeb" stroke-width="0.8"/>
<text x="648.61" y="108.85" font-size="9.1" text-anchor="middle" font-weight="normal" fill="#222222" stroke="#222222" stroke-width="0.10" >0.14</text>
<rect x="517.62" y="120.10" width="29.11" height="29.10" fill="#e6aeb2" stroke="#ebebeb" stroke-width="0.8"/>
<text x="532.17" y="137.95" font-size="9.1" text-anchor="middle" font-weight="normal" fill="#222222" stroke="#222222" stroke-width="0.10" >0.14</text>
<rect x="546.73" y="120.10" width="29.11" height="29.10" fill="#ffffff" stroke="#ebebeb" stroke-width="0.8"/>
<text x="561.28" y="137.95" font-size="9.1" text-anchor="middle" font-weight="normal" fill="#222222" stroke="#222222" stroke-width="0.10" >0.04</text>
<rect x="575.84" y="120.10" width="29.11" height="29.10" fill="#efcbce" stroke="#ebebeb" stroke-width="0.8"/>
<text x="590.39" y="137.95" font-size="9.1" text-anchor="middle" font-weight="normal" fill="#222222" stroke="#222222" stroke-width="0.10" >0.09</text>
<rect x="604.95" y="120.10" width="29.11" height="29.10" fill="#e6aeb2" stroke="#ebebeb" stroke-width="0.8"/>
<text x="619.50" y="137.95" font-size="9.1" text-anchor="middle" font-weight="normal" fill="#222222" stroke="#222222" stroke-width="0.10" >0.14</text>
<rect x="634.06" y="120.10" width="29.11" height="29.10" fill="#ecc0c3" stroke="#ebebeb" stroke-width="0.8"/>
<text x="648.61" y="137.95" font-size="9.1" text-anchor="middle" font-weight="normal" fill="#222222" stroke="#222222" stroke-width="0.10" >0.11</text>
<rect x="488.51" y="149.20" width="29.11" height="29.10" fill="#e5a9ad" stroke="#ebebeb" stroke-width="0.8"/>
<text x="503.06" y="167.05" font-size="9.1" text-anchor="middle" font-weight="normal" fill="#222222" stroke="#222222" stroke-width="0.10" >0.15</text>
<rect x="517.62" y="149.20" width="29.11" height="29.10" fill="#df979c" stroke="#ebebeb" stroke-width="0.8"/>
<text x="532.17" y="167.05" font-size="9.1" text-anchor="middle" font-weight="normal" fill="#222222" stroke="#222222" stroke-width="0.10" >0.18</text>
<rect x="546.73" y="149.20" width="29.11" height="29.10" fill="#d77b81" stroke="#ebebeb" stroke-width="0.8"/>
<text x="561.28" y="167.05" font-size="9.1" text-anchor="middle" font-weight="normal" fill="#222222" stroke="#222222" stroke-width="0.10" >0.23</text>
<rect x="575.84" y="149.20" width="29.11" height="29.10" fill="#efcbce" stroke="#ebebeb" stroke-width="0.8"/>
<text x="590.39" y="167.05" font-size="9.1" text-anchor="middle" font-weight="normal" fill="#222222" stroke="#222222" stroke-width="0.10" >0.09</text>
<rect x="604.95" y="149.20" width="29.11" height="29.10" fill="#ffffff" stroke="#ebebeb" stroke-width="0.8"/>
<text x="619.50" y="167.05" font-size="9.1" text-anchor="middle" font-weight="normal" fill="#222222" stroke="#222222" stroke-width="0.10" >0.04</text>
<rect x="634.06" y="149.20" width="29.11" height="29.10" fill="#dc8c91" stroke="#ebebeb" stroke-width="0.8"/>
<text x="648.61" y="167.05" font-size="9.1" text-anchor="middle" font-weight="normal" fill="#222222" stroke="#222222" stroke-width="0.10" >0.20</text>
<rect x="459.40" y="178.30" width="29.11" height="29.10" fill="#d36f76" stroke="#ebebeb" stroke-width="0.8"/>
<text x="473.95" y="196.15" font-size="9.1" text-anchor="middle" font-weight="normal" fill="#222222" stroke="#222222" stroke-width="0.10" >0.25</text>
<rect x="488.51" y="178.30" width="29.11" height="29.10" fill="#ffffff" stroke="#ebebeb" stroke-width="0.8"/>
<text x="503.06" y="196.15" font-size="9.1" text-anchor="middle" font-weight="normal" fill="#222222" stroke="#222222" stroke-width="0.10" >0.08</text>
<rect x="517.62" y="178.30" width="29.11" height="29.10" fill="#e8b4b8" stroke="#ebebeb" stroke-width="0.8"/>
<text x="532.17" y="196.15" font-size="9.1" text-anchor="middle" font-weight="normal" fill="#222222" stroke="#222222" stroke-width="0.10" >0.13</text>
<rect x="546.73" y="178.30" width="29.11" height="29.10" fill="#e6aeb2" stroke="#ebebeb" stroke-width="0.8"/>
<text x="561.28" y="196.15" font-size="9.1" text-anchor="middle" font-weight="normal" fill="#222222" stroke="#222222" stroke-width="0.10" >0.14</text>
<rect x="575.84" y="178.30" width="29.11" height="29.10" fill="#ffffff" stroke="#ebebeb" stroke-width="0.8"/>
<text x="590.39" y="196.15" font-size="9.1" text-anchor="middle" font-weight="normal" fill="#222222" stroke="#222222" stroke-width="0.10" >0.04</text>
<rect x="604.95" y="178.30" width="29.11" height="29.10" fill="#ffffff" stroke="#ebebeb" stroke-width="0.8"/>
<text x="619.50" y="196.15" font-size="9.1" text-anchor="middle" font-weight="normal" fill="#222222" stroke="#222222" stroke-width="0.10" >0.04</text>
<rect x="634.06" y="178.30" width="29.11" height="29.10" fill="#e5a9ad" stroke="#ebebeb" stroke-width="0.8"/>
<text x="648.61" y="196.15" font-size="9.1" text-anchor="middle" font-weight="normal" fill="#222222" stroke="#222222" stroke-width="0.10" >0.15</text>
<text transform="translate(473.56,215.20) scale(0.94,1)" font-size="6.5" text-anchor="middle" font-weight="bold" fill="#1a1a1a" stroke="#1a1a1a" stroke-width="0.20" >BACS</text>
<text transform="translate(503.46,215.20) scale(0.94,1)" font-size="6.5" text-anchor="middle" font-weight="bold" fill="#1a1a1a" stroke="#1a1a1a" stroke-width="0.20" >HVLT</text>
<text transform="translate(533.17,215.20) scale(0.94,1)" font-size="6.5" text-anchor="middle" font-weight="bold" fill="#1a1a1a" stroke="#1a1a1a" stroke-width="0.20" >WMS</text>
<text transform="translate(562.08,215.20) scale(0.94,1)" font-size="6.5" text-anchor="middle" font-weight="bold" fill="#1a1a1a" stroke="#1a1a1a" stroke-width="0.20" >Maze</text>
<text transform="translate(590.14,215.20) scale(0.94,1)" font-size="6.5" text-anchor="middle" font-weight="bold" fill="#1a1a1a" stroke="#1a1a1a" stroke-width="0.20" >BVMT</text>
<text transform="translate(622.21,215.20) scale(0.94,1)" font-size="6.5" text-anchor="middle" font-weight="bold" fill="#1a1a1a" stroke="#1a1a1a" stroke-width="0.20" >VFT</text>
<text transform="translate(650.91,215.20) scale(0.94,1)" font-size="6.5" text-anchor="middle" font-weight="bold" fill="#1a1a1a" stroke="#1a1a1a" stroke-width="0.20" >CPT</text>
<text transform="translate(675.20,20.55) scale(0.94,1)" font-size="6.5" text-anchor="middle" font-weight="bold" fill="#1a1a1a" stroke="#1a1a1a" stroke-width="0.20" >VFT</text>
<text transform="translate(675.20,49.65) scale(0.94,1)" font-size="6.5" text-anchor="middle" font-weight="bold" fill="#1a1a1a" stroke="#1a1a1a" stroke-width="0.20" >BVMT</text>
<text transform="translate(675.20,78.75) scale(0.94,1)" font-size="6.5" text-anchor="middle" font-weight="bold" fill="#1a1a1a" stroke="#1a1a1a" stroke-width="0.20" >Maze</text>
<text transform="translate(675.20,107.85) scale(0.94,1)" font-size="6.5" text-anchor="middle" font-weight="bold" fill="#1a1a1a" stroke="#1a1a1a" stroke-width="0.20" >WMS</text>
<text transform="translate(675.20,136.95) scale(0.94,1)" font-size="6.5" text-anchor="middle" font-weight="bold" fill="#1a1a1a" stroke="#1a1a1a" stroke-width="0.20" >HVLT</text>
<text transform="translate(675.20,166.05) scale(0.94,1)" font-size="6.5" text-anchor="middle" font-weight="bold" fill="#1a1a1a" stroke="#1a1a1a" stroke-width="0.20" >BACS</text>
<text transform="translate(675.20,195.15) scale(0.94,1)" font-size="6.5" text-anchor="middle" font-weight="bold" fill="#1a1a1a" stroke="#1a1a1a" stroke-width="0.20" >TMT</text>
<text x="563.20" y="15.80" font-size="11.9" text-anchor="middle" font-weight="normal" fill="#1a1a1a" stroke="#1a1a1a" stroke-width="0.22" >FES vs. HC</text>
<rect x="252.1" y="21.9" width="9" height="45" fill="url(#gr)"/>
<line x1="252.1" y1="58.80" x2="253.9" y2="58.80" stroke="#ffffff" stroke-width="0.6" opacity="0.7"/>
<line x1="259.3" y1="58.80" x2="261.1" y2="58.80" stroke="#ffffff" stroke-width="0.6" opacity="0.7"/>
<line x1="252.1" y1="50.00" x2="253.9" y2="50.00" stroke="#ffffff" stroke-width="0.6" opacity="0.7"/>
<line x1="259.3" y1="50.00" x2="261.1" y2="50.00" stroke="#ffffff" stroke-width="0.6" opacity="0.7"/>
<line x1="252.1" y1="41.20" x2="253.9" y2="41.20" stroke="#ffffff" stroke-width="0.6" opacity="0.7"/>
<line x1="259.3" y1="41.20" x2="261.1" y2="41.20" stroke="#ffffff" stroke-width="0.6" opacity="0.7"/>
<line x1="252.1" y1="32.40" x2="253.9" y2="32.40" stroke="#ffffff" stroke-width="0.6" opacity="0.7"/>
<line x1="259.3" y1="32.40" x2="261.1" y2="32.40" stroke="#ffffff" stroke-width="0.6" opacity="0.7"/>
<text x="263.80" y="69.20" font-size="4.6" text-anchor="start" font-weight="normal" fill="#333333" stroke="#333333" stroke-width="0.10" >0.00</text>
<text x="263.80" y="60.40" font-size="4.6" text-anchor="start" font-weight="normal" fill="#333333" stroke="#333333" stroke-width="0.10" >0.05</text>
<text x="263.80" y="51.60" font-size="4.6" text-anchor="start" font-weight="normal" fill="#333333" stroke="#333333" stroke-width="0.10" >0.10</text>
<text x="263.80" y="42.80" font-size="4.6" text-anchor="start" font-weight="normal" fill="#333333" stroke="#333333" stroke-width="0.10" >0.15</text>
<text x="263.80" y="34.00" font-size="4.6" text-anchor="start" font-weight="normal" fill="#333333" stroke="#333333" stroke-width="0.10" >0.20</text>
<text x="263.80" y="25.20" font-size="4.6" text-anchor="start" font-weight="normal" fill="#333333" stroke="#333333" stroke-width="0.10" >0.25</text>
<text x="252.50" y="13.20" font-size="5.7" text-anchor="start" font-weight="normal" fill="#222222" stroke="#222222" stroke-width="0.13" >Difference</text>
<text x="252.50" y="19.30" font-size="5.7" text-anchor="start" font-weight="normal" fill="#222222" stroke="#222222" stroke-width="0.13" >(p&lt;0.05)</text>
</svg>
</body></html>
